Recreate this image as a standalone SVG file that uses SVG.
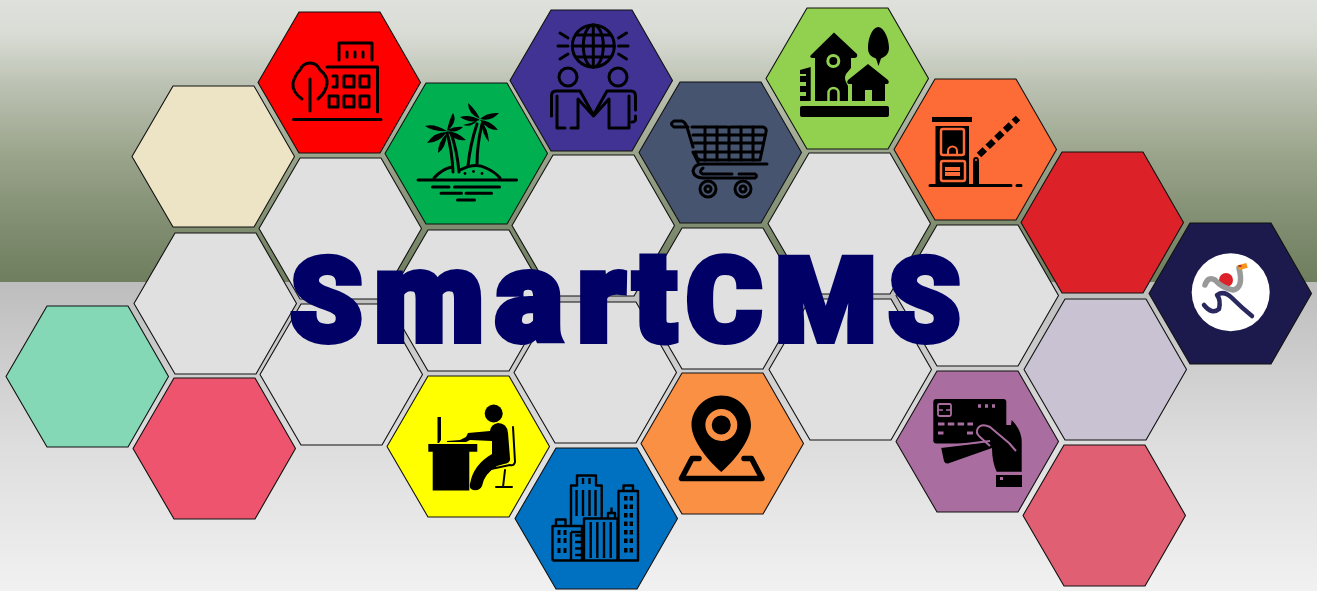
<svg xmlns="http://www.w3.org/2000/svg" width="1317" height="591" viewBox="0 0 1317 591">
<style>
.hex{stroke:#111;stroke-width:1.1;stroke-linejoin:round}
.ln{fill:none;stroke:#000;stroke-width:3;stroke-linecap:round;stroke-linejoin:round}
.sol{fill:#000;stroke:none}
.title{font-family:Roboto,"Liberation Sans",Arial,sans-serif;font-weight:900;fill:#000066;stroke:#000066;stroke-width:6;stroke-linejoin:miter}
</style>
<defs>
<linearGradient id="bgTop" x1="0" y1="0" x2="0" y2="1">
<stop offset="0" stop-color="#dfe2dc"/><stop offset="0.12" stop-color="#d9dcd5"/><stop offset="0.3" stop-color="#bcc2b3"/><stop offset="0.55" stop-color="#9aa48b"/><stop offset="0.8" stop-color="#808d70"/><stop offset="1" stop-color="#6f7e5f"/>
</linearGradient>
<linearGradient id="bgBot" x1="0" y1="0" x2="0" y2="1">
<stop offset="0" stop-color="#bdbdbd"/><stop offset="0.5" stop-color="#dcdcdc"/><stop offset="1" stop-color="#f1f1f1"/>
</linearGradient>
<polygon id="hex" points="41,0 122,0 162.5,70.5 122,141 41,141 0,70.5"/>
</defs>
<rect id="background-top" width="1317" height="282" fill="url(#bgTop)"/>
<rect id="background-bottom" y="282" width="1317" height="309" fill="url(#bgBot)"/>

<g id="hex-grey-1"><use href="#hex" class="hex" fill="#e0e0e0" x="259" y="158"/></g>
<g id="hex-grey-2"><use href="#hex" class="hex" fill="#e0e0e0" x="512" y="155"/></g>
<g id="hex-grey-3"><use href="#hex" class="hex" fill="#e0e0e0" x="768" y="153"/></g>
<g id="hex-grey-4"><use href="#hex" class="hex" fill="#e0e0e0" x="260" y="304"/></g>
<g id="hex-grey-5"><use href="#hex" class="hex" fill="#e0e0e0" x="514" y="302"/></g>
<g id="hex-grey-6"><use href="#hex" class="hex" fill="#e0e0e0" x="769" y="299"/></g>
<g id="hex-grey-7"><use href="#hex" class="hex" fill="#e0e0e0" x="134" y="233"/></g>
<g id="hex-grey-8"><use href="#hex" class="hex" fill="#e0e0e0" x="387" y="230"/></g>
<g id="hex-grey-9"><use href="#hex" class="hex" fill="#e0e0e0" x="641" y="228"/></g>
<g id="hex-grey-10"><use href="#hex" class="hex" fill="#e0e0e0" x="896" y="225"/></g>
<g id="hex-beige"><use href="#hex" class="hex" fill="#ece4c4" x="132" y="86"/></g>
<g id="hex-aqua"><use href="#hex" class="hex" fill="#84d8b6" x="6" y="306"/></g>
<g id="hex-pink"><use href="#hex" class="hex" fill="#ee546e" x="133" y="378"/></g>
<g id="hex-crimson"><use href="#hex" class="hex" fill="#dc2128" x="1021" y="152"/></g>
<g id="hex-lilac"><use href="#hex" class="hex" fill="#c8c2d2" x="1024" y="299"/></g>
<g id="hex-rose"><use href="#hex" class="hex" fill="#e15f72" x="1023" y="445"/></g>

<g id="hex-red"><use href="#hex" class="hex" fill="#ff0000" x="258" y="12"/>
<g class="ln"><path d="M293.500 119.500H381M310 79V111M302 99Q292 92 293 83Q295 75 300 70Q303 63 310 63Q317 63 320 70Q328 76 327 84Q326 92 318 99M339 60V43H372V60M347 52V57M355 52V57M363 52V57M327 67H377.500V112"/>
<path d="M333 76H337V87H333M344 76H354V87H344ZM360 76H369V87H360ZM329 96H338V107H329ZM344 96H354V107H344ZM360 96H369V107H360Z"/></g></g>

<g id="hex-green"><use href="#hex" class="hex" fill="#00b050" x="385" y="83"/>
<g class="ln"><path d="M418 180H516.500M432.500 187H449M454.500 187H499.500M441 193.300H461.500M466 193.300H491.500M457.500 200H474.500"/>
<path d="M434 178Q442 169 452 167M460 170Q475 162 486 168Q495 172 500 178"/>
<path d="M447 133Q452 150 453 172M451 133Q457 150 459 172M468 166Q470 145 477 124M477 164Q477 145 482 124"/></g>
<path class="sol" stroke="#000" d="M447 131Q434 123 425 126Q433 132 447 131ZM447 132Q434 132 427 143Q439 143 447 132ZM447 133Q438 142 438 153Q446 148 447 133ZM447 131Q449 120 453 113Q458 122 447 131ZM447 130Q455 126 463 127Q456 134 447 130ZM447 131Q458 132 466 140Q455 142 447 131Z"/>
<path class="sol" stroke="#000" d="M480 120Q470 114 460 117Q470 124 480 120ZM480 119Q476 110 468 103Q468 114 480 119ZM480 119Q487 112 499 113Q491 122 480 119ZM480 120Q490 120 498 130Q487 130 480 120ZM481 121Q488 128 489 142Q482 134 481 121ZM478 120Q470 124 463 125Q471 128 478 120Z"/>
<g class="sol"><circle cx="465" cy="173.500" r="1.400"/><circle cx="473.500" cy="171.500" r="1.400"/><circle cx="482" cy="173.500" r="1.400"/></g></g>

<g id="hex-purple"><use href="#hex" class="hex" fill="#403393" x="510" y="10"/>
<g class="ln"><circle cx="593.300" cy="46" r="21"/><ellipse cx="593.300" cy="46" rx="10" ry="21"/><path d="M593.300 25V67M572.300 46H614.300M576 35H610.500M576 57H610.500M558 46H568M560 33L568 38M560 59L568 54M618.500 46H628M618.500 38L626.500 33M618.500 54L626.500 59"/>
<circle cx="568" cy="77" r="9"/><circle cx="618" cy="77" r="9"/>
<path d="M551.500 116V96Q551.500 91 556 91H580L593.500 115L607 91H631Q635.500 91 635.500 96V110M635.500 116V120Q635 122 632 122M557 96V128H565M571 128H578V99L593.500 116L609 99V128H629V96"/></g></g>

<g id="hex-slate"><use href="#hex" class="hex" fill="#47546f" x="639" y="82"/>
<g class="ln"><path d="M688 127H674Q669 124 674 121H682Q685 122 687 127L693 147M695 152L697 158L700 160M692 127H727M731 127H763Q767 128 766 132L760 160H700"/>
<path d="M705 127V160M717 127V160M729 127V160M741 127V160M753 127V160M693 135H765M694 143H763M696 152H761"/>
<path d="M693 152L698 162M767 164H703Q694 164 693 171Q694 178 703 178H755Q758 176 755 174H739M732 174H703Q698 172 703 168"/>
<circle cx="708" cy="189" r="8"/><circle cx="708" cy="189" r="3"/><circle cx="743" cy="189" r="8"/><circle cx="743" cy="189" r="3"/></g></g>

<g id="hex-lime"><use href="#hex" class="hex" fill="#92d050" x="766" y="8"/>
<path class="sol" d="M811 55L834 32.500L857 54Q858 58 854 58H851V68L846 74Q844 78 846 82L848 86V101H815V58H812Q809 57 811 55Z"/>
<circle cx="833.300" cy="61" r="5.500" fill="none" stroke="#92d050" stroke-width="3"/>
<path d="M828.500 101V93A5 5 0 0 1 838.500 93V101" fill="none" stroke="#92d050" stroke-width="2.500"/>
<path class="sol" fill-rule="evenodd" d="M848 80L868 64L888 80Q890 83 887 84H885V101H852V84H849Q846 83 848 80ZM865 90H872V101H865Z"/>
<path class="sol" d="M800 70L810.700 67V101H800V96H806V92H800V86H806V82H800V76H806V74H800Z"/>
<rect class="sol" x="800" y="106" width="89" height="11" rx="2"/>
<path class="sol" d="M878.300 27C871 28 868 40 868 48C868 54 871 57 876 58.500L878.500 66L881 58.500C885 57 889 54 889 48C889 40 885 28 878.300 27Z"/></g>

<g id="hex-orange"><use href="#hex" class="hex" fill="#fd6b37" x="894" y="79"/>
<rect class="sol" x="932" y="117" width="40" height="5"/>
<rect class="sol" x="935.500" y="126" width="33.500" height="60"/>
<rect x="941" y="129" width="23" height="26" rx="2" fill="none" stroke="#fd6b37" stroke-width="2.500"/>
<path d="M948 154V151A4.500 4.500 0 0 1 957 151V154" fill="none" stroke="#fd6b37" stroke-width="2"/>
<rect x="941" y="161" width="24" height="20" rx="2" fill="#000" stroke="#fd6b37" stroke-width="2.500"/>
<rect x="945" y="167" width="15" height="9" fill="#fd6b37"/><path d="M945 171.500H960" stroke="#000" stroke-width="1"/>
<path class="sol" d="M973 161Q973 157 976 157Q979 157 979 161V186H973Z"/>
<path d="M979 155L1018 118" stroke="#000" stroke-width="6.500" stroke-dasharray="8 4" fill="none"/>
<path class="ln" d="M930 185.500H1011M1017 185.500H1021"/><circle cx="976" cy="160" r="1" fill="#fd6b37"/></g>

<g id="hex-navy"><use href="#hex" class="hex" fill="#1c1a4c" x="1149" y="223"/>
<circle cx="1230.700" cy="292.300" r="39" fill="#fff"/><circle cx="1226" cy="280" r="7" fill="#dc2128"/>
<path d="M1205 285Q1208 276 1215 280Q1222 288 1233 290Q1244 288 1239 268" fill="none" stroke="#999" stroke-width="5.500" stroke-linecap="round"/>
<path d="M1204 305Q1212 315 1219 309Q1221 300 1217 295Q1224 290 1232 298Q1242 308 1252 316" fill="none" stroke="#29295f" stroke-width="4.500" stroke-linecap="round" stroke-linejoin="round"/>
<rect x="1238" y="264" width="9" height="5" fill="#f7941d" transform="rotate(-15 1243 266)"/><rect x="1238.500" y="265" width="3" height="2" fill="#a33"/></g>

<g id="hex-yellow"><use href="#hex" class="hex" fill="#ffff00" x="387" y="376"/>
<circle class="sol" cx="493.700" cy="413.500" r="9"/>
<path class="sol" d="M428.300 444H477.300V451.700H469.300V490.500H432.700V451.700H428.300Z"/>
<path class="sol" d="M437.500 417H441V440L439 443H437.500Z"/>
<path class="sol" d="M447 441L460 440L466 437L468 433L490 431Q491 424 498 423Q507 423 508 433L510 458Q511 463 504 464L497 466Q484 474 482 486Q480 491 473 490Q469 489 470 484Q473 465 492 454V441L470 440L466 442H447Z"/>
<path class="ln" style="stroke-width:2" d="M513 427L515 462Q514 466 510 465L491 469M505 470L503 487M496 487H512"/></g>

<g id="hex-blue"><use href="#hex" class="hex" fill="#0070c0" x="515" y="448"/>
<g class="ln" style="stroke-width:2.400;stroke-linecap:butt"><path d="M552.500 560.500H638V491H618.500V560.500M623.500 491V485.500H633V491M571 526V485.500H577V475.500H596V485.500H601.700V518M552.500 560.500V526H582V560.500M556 526V519.500H565.500V526M584 560.500V518.500H617.500V560.500M608 518V513H615V518M611.500 513V507.500"/>
<path d="M576.500 490V516M583 490V516M589.500 490V516M595.500 490V516M583 478V484M589.500 478V484M590.700 522V558M597.300 522V558M604 522V558M610.700 522V558M571 532H582M571 532V560M575 535.500H581.700M575 542H581.700M575 548.500H581.700M575 555H581.700"/></g>
<path class="sol" d="M624 496h3.500v4.500h-3.500zM629.500 496h3.500v4.500h-3.500zM624 504.500h3.500v4.500h-3.500zM629.500 504.500h3.500v4.500h-3.500zM624 513h3.500v4.500h-3.500zM629.500 513h3.500v4.500h-3.500zM624 521.500h3.500v4.500h-3.500zM629.500 521.500h3.500v4.500h-3.500zM624 530h3.500v4.500h-3.500zM629.500 530h3.500v4.500h-3.500zM624 538.500h3.500v4.500h-3.500zM629.500 538.500h3.500v4.500h-3.500zM624 548h3.500v4.500h-3.500zM629.500 548h3.500v4.500h-3.500zM557.500 530h3v5h-3zM563.500 530h3v5h-3zM557.500 538h3v5h-3zM563.500 538h3v5h-3zM557.500 548h3v5h-3zM563.500 548h3v5h-3z"/></g>

<g id="hex-orange2"><use href="#hex" class="hex" fill="#fa9044" x="641" y="373"/>
<path class="sol" fill-rule="evenodd" d="M721.300 395.500C738 395.500 751 409 751 425C751 441 733 462 721.300 472C709.500 462 691.500 441 691.500 425C691.500 409 705 395.500 721.300 395.500ZM721.300 409A16 16 0 1 0 721.400 441A16 16 0 1 0 721.300 409ZM721.300 415.500A9.500 9.500 0 1 1 721.200 434.500A9.500 9.500 0 1 1 721.300 415.500Z"/>
<path d="M699 458.500H692L681.500 478.500H762L751.500 458.500H744" fill="none" stroke="#000" stroke-width="5.500" stroke-linecap="round" stroke-linejoin="round"/></g>

<g id="hex-mauve"><use href="#hex" class="hex" fill="#a96d9f" x="896" y="371"/>
<rect class="sol" x="933.300" y="399" width="73" height="44.500" rx="3"/>
<rect x="938" y="404" width="13" height="12" rx="1.500" fill="none" stroke="#a96d9f" stroke-width="1.800"/><path d="M938 410H943M946 410H951" stroke="#a96d9f" stroke-width="1.500"/>
<path d="M978 406H998" stroke="#a96d9f" stroke-width="3.500" stroke-dasharray="3 4" fill="none"/>
<path d="M938 424H973" stroke="#a96d9f" stroke-width="3" stroke-dasharray="6.500 3.300" fill="none"/><path d="M938 433H943.500M967 433H973" stroke="#a96d9f" stroke-width="3" fill="none"/>
<path class="sol" d="M1011.700 420Q1021.700 430 1021.700 442V471.700H996.700Q992 462 992 448L948 463.500Q945 464 944 461L941 447L990 442L1006 438V425H1011Z"/>
<path d="M1016 451L1009 443L990 427Q982 423 978 428Q975 433 980 437L990 446" fill="#000" stroke="#a96d9f" stroke-width="2" stroke-linejoin="round"/>
<path d="M941 447L990 441" stroke="#a96d9f" stroke-width="2"/>
<rect class="sol" x="996" y="475" width="26" height="12"/><rect x="1000" y="477" width="3" height="3" fill="#a96d9f"/></g>

<g id="title"><text class="title" y="341" x="290 374 495 577 633 686 775 888"><tspan font-size="116">S</tspan><tspan font-size="128">mart</tspan><tspan font-size="116">CMS</tspan></text></g>
</svg>
